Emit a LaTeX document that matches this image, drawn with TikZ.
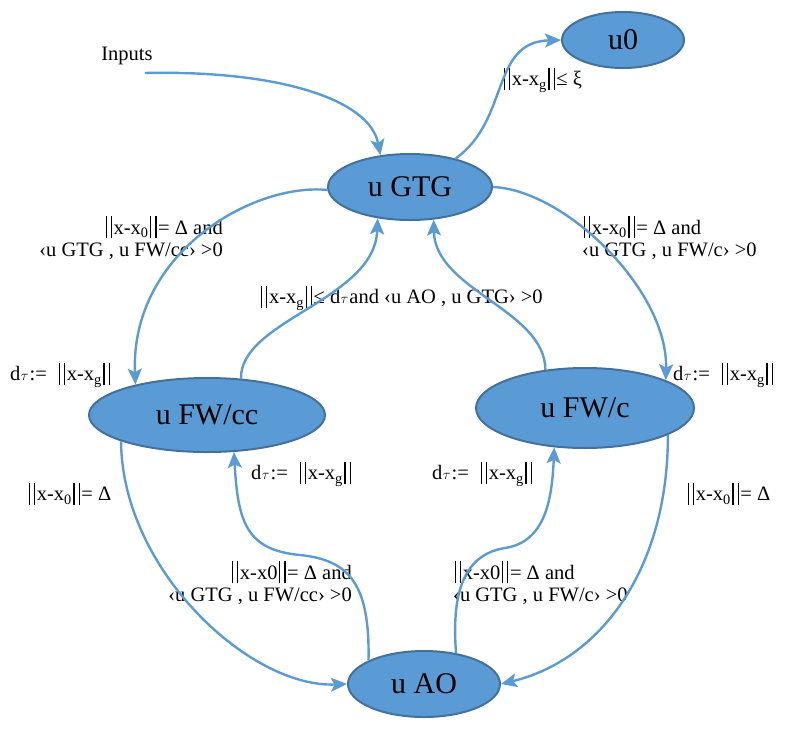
\documentclass[tikz,border=0pt]{standalone}
\usepackage{fontspec}
\setmainfont{Liberation Serif}
\usetikzlibrary{shapes.geometric,arrows.meta}
\definecolor{nodefill}{HTML}{5B9BD5}
\definecolor{nodeline}{HTML}{41719C}
\definecolor{edgeblue}{HTML}{5B9BD5}
\newcommand\nv{\kern0.08em\rule[-0.2em]{0.055em}{1.08em}\kern0.2em\rule[-0.2em]{0.055em}{1.08em}\kern0.08em}
\newcommand\dtau{d\kern0.02em$\scriptstyle\tau$\kern0.05em}
\newcommand\sub[1]{\textsubscript{#1}}
\tikzset{
  state/.style={ellipse, fill=nodefill, draw=nodeline, line width=2pt, inner sep=0pt,
    font=\fontsize{30}{32}\selectfont},
  lbl/.style={inner sep=0pt, font=\fontsize{20.5}{22.5}\selectfont},
  edge/.style={draw=edgeblue, line width=2.4pt, -{Stealth[length=16pt,width=14pt,inset=3.5pt]}}
}
\begin{document}
\begin{tikzpicture}[x=1pt,y=-1pt]
\useasboundingbox (0,0) rectangle (789,729);
% states
\node[state, minimum width=122pt, minimum height=56pt] (u0) at (623,40) {u0};
\node[state, minimum width=164pt, minimum height=66pt] (gtg) at (410,187) {u GTG};
\node[state, minimum width=236pt, minimum height=74pt] (fwcc) at (207,415) {u FW/cc};
\node[state, minimum width=218pt, minimum height=80pt] (fwc) at (585,408) {u FW/c};
\node[state, minimum width=152pt, minimum height=66pt] (ao) at (424,684) {u AO};
% labels
\node[lbl] (inputs) at (127,56) {Inputs};
\coordinate (inp) at (145,73);
\node[lbl] (l1) at (542,80) {\nv x-x\sub{g}\nv≤ ξ};
\node[lbl, anchor=east, align=right] (l2) at (223,238) {\nv x-x\sub{0}\nv= Δ and\\‹u GTG , u FW/cc› >0};
\node[lbl, anchor=west, align=left] (l3) at (582,238) {\nv x-x\sub{0}\nv= Δ and\\ ‹u GTG , u FW/c› >0};
\node[lbl] (l4) at (401,298) {\nv x-x\sub{g}\nv≤ \dtau and ‹u AO , u GTG› >0};
\node[lbl, anchor=west] (l5) at (10,375) {\dtau :=\ \ \nv x-x\sub{g}\nv};
\node[lbl, anchor=west] (l6) at (673,375) {\dtau :=\ \ \nv x-x\sub{g}\nv};
\node[lbl, anchor=west] (l7) at (251,474) {\dtau :=\ \ \nv x-x\sub{g}\nv};
\node[lbl, anchor=west] (l8) at (432,474) {\dtau :=\ \ \nv x-x\sub{g}\nv};
\node[lbl, anchor=west] (l9) at (27,494) {\nv x-x\sub{0}\nv= Δ};
\node[lbl, anchor=west] (l10) at (686,494) {\nv x-x\sub{0}\nv= Δ};
\node[lbl, anchor=east, align=right] (l11) at (352,583) {\nv x-x0\nv= Δ and\\‹u GTG , u FW/cc› >0};
\node[lbl, anchor=west, align=left] (l12) at (453,583) {\nv x-x0\nv= Δ and\\ ‹u GTG , u FW/c› >0};
% edges
\draw[edge] (inp) .. controls (280,70) and (370,100) .. (gtg.133);
\draw[edge] (gtg.32) .. controls (510,120) and (490,42) .. (u0.west);
\draw[edge] (gtg.182) .. controls (250,183) and (130,255) .. (fwcc.157);
\draw[edge] (gtg.east) .. controls (565,190) and (668,290) .. (fwc.19);
\draw[edge] (fwcc.47) .. controls (240,320) and (375,300) .. (gtg.224);
\draw[edge] (fwc.136) .. controls (545,310) and (435,290) .. (gtg.306);
\draw[edge] (fwcc.197) .. controls (122,570) and (250,688) .. (ao.west);
\draw[edge] (fwc.342) .. controls (668,570) and (600,660) .. (ao.east);
\draw[edge] (ao.157) .. controls (370,585) and (350,560) .. (300,555) .. controls (245,550) and (238,520) .. (fwcc.306);
\draw[edge] (ao.44) .. controls (452,600) and (460,555) .. (505,548) .. controls (545,542) and (552,500) .. (fwc.232);
\end{tikzpicture}
\end{document}
